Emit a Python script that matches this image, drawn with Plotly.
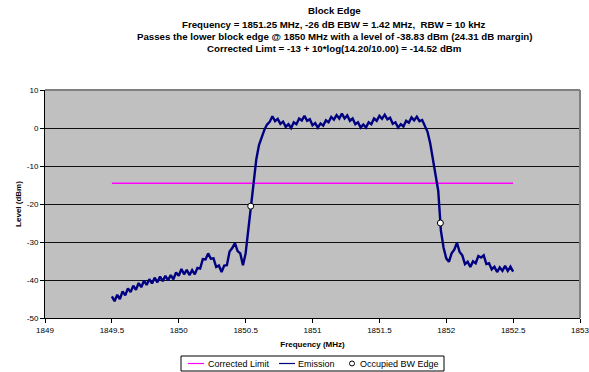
import plotly.graph_objects as go

# ---------------- data ----------------
freq_start = 1849.50      # MHz, first emission sample
freq_step = 0.02          # MHz, sample spacing

emission_dbm = [
    -44.3, -45.6, -43.9, -45.0, -43.0, -44.0, -42.2, -43.2, -41.5, -42.6,
    -40.8, -41.9, -40.2, -41.3, -39.8, -40.9, -39.4, -40.6, -39.1, -40.3,
    -38.9, -40.1, -38.7, -39.8, -38.0, -38.9, -37.1, -38.5, -37.3, -38.7,
    -37.4, -38.5, -36.8, -37.0, -34.5, -34.6, -33.0, -34.4, -34.3, -36.6,
    -36.2, -37.9, -36.2, -36.1, -32.5, -31.6, -30.3, -32.4, -33.0, -36.1,
    -33.0, -27.0, -20.0, -13.8, -8.2, -4.5, -2.2, -0.5, 0.9, 1.6,
    3.1, 1.8, 2.4, 1.1, 1.7, 0.3, 1.0, 0.0, 1.5, 1.0,
    2.5, 2.0, 3.2, 1.9, 2.3, 0.7, 1.3, 0.1, 1.2, 0.6,
    2.0, 1.5, 2.9, 2.2, 3.4, 2.5, 3.8, 2.5, 3.3, 1.9,
    2.5, 1.0, 1.5, 0.1, 0.9, 0.1, 1.5, 1.0, 2.5, 1.9,
    3.2, 2.4, 3.5, 2.3, 2.7, 1.1, 1.5, 0.1, 1.0, 0.4,
    1.9, 1.4, 2.8, 2.0, 3.0, 1.8, 2.1, 0.3, -1.0, -4.0,
    -8.0, -12.0, -16.5, -27.0, -31.5, -34.3, -35.2, -33.0, -32.0, -30.2,
    -32.6, -33.5, -35.8, -35.2, -36.6, -35.1, -35.6, -33.7, -34.1, -33.5,
    -35.8, -35.6, -37.2, -36.5, -37.9, -36.7, -37.6, -36.3, -37.6, -36.5,
    -37.8,
]

limit_freqs = [1849.5, 1849.75, 1850.0, 1850.25, 1850.5, 1850.75, 1851.0,
               1851.25, 1851.5, 1851.75, 1852.0, 1852.25, 1852.5]
limit_dbm = -14.52

obw_edge_freqs = [1850.538, 1851.956]
obw_edge_dbm = [-20.56, -25.0]

x_ticks = [1849, 1849.5, 1850, 1850.5, 1851, 1851.5, 1852, 1852.5, 1853]
x_tick_labels = ["1849", "1849.5", "1850", "1850.5", "1851", "1851.5",
                 "1852", "1852.5", "1853"]
y_ticks = [-50, -40, -30, -20, -10, 0, 10]
y_tick_labels = ["-50", "-40", "-30", "-20", "-10", "0", "10"]

title_lines = [
    "Block Edge",
    "Frequency = 1851.25 MHz, -26 dB EBW = 1.42 MHz,  RBW = 10 kHz",
    "Passes the lower block edge @ 1850 MHz with a level of -38.83 dBm (24.31 dB margin)",
    "Corrected Limt = -13 + 10*log(14.20/10.00) = -14.52 dBm",
]
legend_names = ["Corrected Limit", "Emission", "Occupied BW Edge"]

# ---------------- layout geometry (pixels) ----------------
W, H = 589, 372
PL, PR, PT, PB = 45, 580, 90, 318   # plot area edges


def px(xp):
    return (xp - PL) / (PR - PL)


def py(yp):
    return (PB - yp) / (PB - PT)


FONT = "Liberation Sans, Arial, sans-serif"
LIMIT_COLOR = "#FF00FF"
EMIS_COLOR = "#000080"

emission_freqs = [round(freq_start + i * freq_step, 4) for i in range(len(emission_dbm))]

fig = go.Figure()
fig.add_trace(go.Scatter(
    x=limit_freqs, y=[limit_dbm] * len(limit_freqs),
    mode="lines", name=legend_names[0], showlegend=False,
    line=dict(color=LIMIT_COLOR, width=1.5),
))
fig.add_trace(go.Scatter(
    x=emission_freqs, y=emission_dbm,
    mode="lines", name=legend_names[1], showlegend=False,
    line=dict(color=EMIS_COLOR, width=2.4),
))
fig.add_trace(go.Scatter(
    x=obw_edge_freqs, y=obw_edge_dbm,
    mode="markers", name=legend_names[2], showlegend=False,
    marker=dict(symbol="circle", size=6, color="white",
                line=dict(color="black", width=1)),
))

# title lines
annotations = []
title_y = [10.7, 24.0, 36.3, 48.5]
for txt, ty in zip(title_lines, title_y):
    annotations.append(dict(
        text="<b>" + txt + "</b>", xref="paper", yref="paper",
        x=px(334), y=py(ty), xanchor="center", yanchor="middle",
        showarrow=False, font=dict(family=FONT, size=9.7, color="black"),
    ))

# manual legend
LEG_Y = 363.5
legend_text_x = [206, 296, 358]
for name, lx in zip(legend_names, legend_text_x):
    annotations.append(dict(
        text=name, xref="paper", yref="paper", x=px(lx), y=py(LEG_Y),
        xanchor="left", yanchor="middle", showarrow=False,
        font=dict(family=FONT, size=9, color="black"),
    ))

shapes = [
    # grey top/right frame
    dict(type="line", xref="paper", yref="paper", x0=0, x1=1, y0=1, y1=1,
         line=dict(color="#808080", width=2), layer="above"),
    dict(type="line", xref="paper", yref="paper", x0=1, x1=1, y0=0, y1=1,
         line=dict(color="#808080", width=2), layer="above"),
    # legend box
    dict(type="rect", xref="paper", yref="paper",
         x0=px(181), x1=px(444), y0=py(371), y1=py(356),
         line=dict(color="black", width=1), fillcolor="white", layer="above"),
    # legend samples
    dict(type="line", xref="paper", yref="paper",
         x0=px(188), x1=px(204), y0=py(LEG_Y), y1=py(LEG_Y),
         line=dict(color=LIMIT_COLOR, width=1.2), layer="above"),
    dict(type="line", xref="paper", yref="paper",
         x0=px(279), x1=px(295), y0=py(LEG_Y), y1=py(LEG_Y),
         line=dict(color=EMIS_COLOR, width=1.2), layer="above"),
    dict(type="circle", xref="paper", yref="paper",
         x0=px(349.5), x1=px(354.5), y0=py(LEG_Y + 2.5), y1=py(LEG_Y - 2.5),
         line=dict(color="black", width=1), fillcolor="white", layer="above"),
]

fig.update_layout(
    width=W, height=H,
    margin=dict(l=PL, r=W - PR, t=PT, b=H - PB, autoexpand=False),
    paper_bgcolor="white",
    plot_bgcolor="#C0C0C0",
    font=dict(family=FONT, size=8, color="black"),
    showlegend=False,
    xaxis=dict(
        range=[1849, 1853], tickvals=x_ticks, ticktext=x_tick_labels,
        showgrid=False, zeroline=False, ticklabeloverflow="allow",
        automargin=False,
        showline=True, linecolor="black", linewidth=1,
        ticks="outside", ticklen=4, tickcolor="black",
        title=dict(text="<b>Frequency (MHz)</b>", standoff=7,
                   font=dict(family=FONT, size=8)),
    ),
    yaxis=dict(
        range=[-50, 10], tickvals=y_ticks, ticktext=y_tick_labels,
        showgrid=True, gridcolor="#101010", gridwidth=1, zeroline=False,
        showline=True, linecolor="black", linewidth=1,
        ticks="outside", ticklen=4, tickcolor="black",
        title=dict(text="<b>Level (dBm)</b>", standoff=4,
                   font=dict(family=FONT, size=8)),
    ),
    annotations=annotations,
    shapes=shapes,
)

fig.write_html(
    "out.html",
    config={"displayModeBar": False},
    post_script="document.body.style.margin='0';document.body.style.overflow='hidden';",
)
